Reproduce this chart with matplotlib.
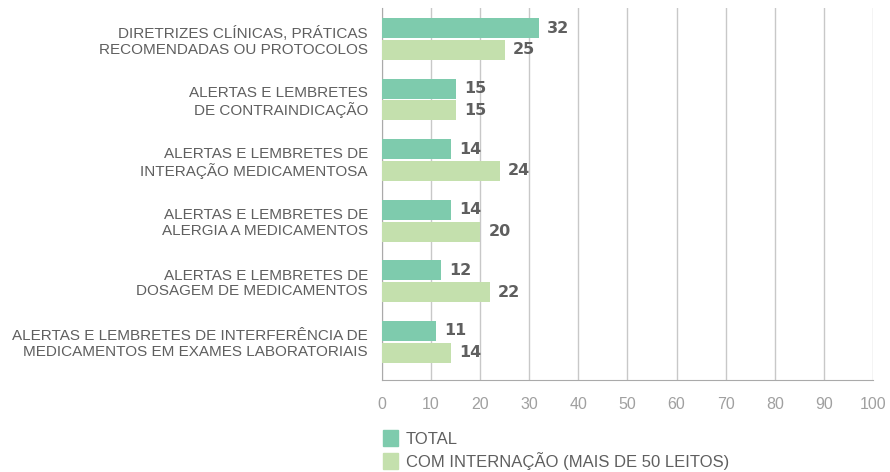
import matplotlib
matplotlib.use("Agg")
import matplotlib.pyplot as plt
from matplotlib.patches import Patch

plt.rcParams['font.family'] = ['Liberation Sans', 'DejaVu Sans']

categories = [
    "DIRETRIZES CLÍNICAS, PRÁTICAS\nRECOMENDADAS OU PROTOCOLOS",
    "ALERTAS E LEMBRETES\nDE CONTRAINDICAÇÃO",
    "ALERTAS E LEMBRETES DE\nINTERAÇÃO MEDICAMENTOSA",
    "ALERTAS E LEMBRETES DE\nALERGIA A MEDICAMENTOS",
    "ALERTAS E LEMBRETES DE\nDOSAGEM DE MEDICAMENTOS",
    "ALERTAS E LEMBRETES DE INTERFERÊNCIA DE\nMEDICAMENTOS EM EXAMES LABORATORIAIS",
]
total = [32, 15, 14, 14, 12, 11]
com_internacao = [25, 15, 24, 20, 22, 14]
series_names = ["TOTAL", "COM INTERNAÇÃO (MAIS DE 50 LEITOS)"]
xticks = [0, 10, 20, 30, 40, 50, 60, 70, 80, 90, 100]

c_total = "#7ecbad"
c_com = "#c4e0ad"
txt = "#5f5f5f"

fig = plt.figure(figsize=(8.9, 4.72), dpi=100)
ax = fig.add_axes([0.429, 0.195, 0.552, 0.788])

ypos = list(range(len(categories)))
h = 0.33
off = 0.18
ax.barh([y - off for y in ypos], total, height=h, color=c_total, zorder=3)
ax.barh([y + off for y in ypos], com_internacao, height=h, color=c_com, zorder=3)

# rotulos de valor
for y, v in zip(ypos, total):
    ax.text(v + 1.7, y - off, str(v), va='center', ha='left', fontsize=11.5,
            fontweight='bold', color=txt, family='DejaVu Sans')
for y, v in zip(ypos, com_internacao):
    ax.text(v + 1.7, y + off, str(v), va='center', ha='left', fontsize=11.5,
            fontweight='bold', color=txt, family='DejaVu Sans')

ax.set_xlim(0, 100)
ax.set_ylim(5.63, -0.51)
ax.set_xticks(xticks)
ax.set_xticklabels([str(t) for t in xticks], color="#a0a0a0", fontsize=11.5)
ax.set_yticks(ypos)
ax.set_yticklabels(categories, color=txt, fontsize=11, linespacing=1.15)
ax.tick_params(axis='y', length=0, pad=10)
ax.tick_params(axis='x', length=0, pad=12)

ax.grid(axis='x', color="#c8c8c8", linewidth=1, zorder=0)
for s in ['top', 'right']:
    ax.spines[s].set_visible(False)
ax.spines['left'].set_color("#aaaaaa")
ax.spines['bottom'].set_color("#aaaaaa")

handles = [Patch(color=c_total), Patch(color=c_com)]
fig.legend(handles, series_names, loc='upper left', bbox_to_anchor=(0.421, 0.106),
           frameon=False, fontsize=12, labelcolor=txt, handlelength=0.9,
           handleheight=1.05, handletextpad=0.45, labelspacing=0.3, borderpad=0)

fig.savefig("out.png", dpi=100)
